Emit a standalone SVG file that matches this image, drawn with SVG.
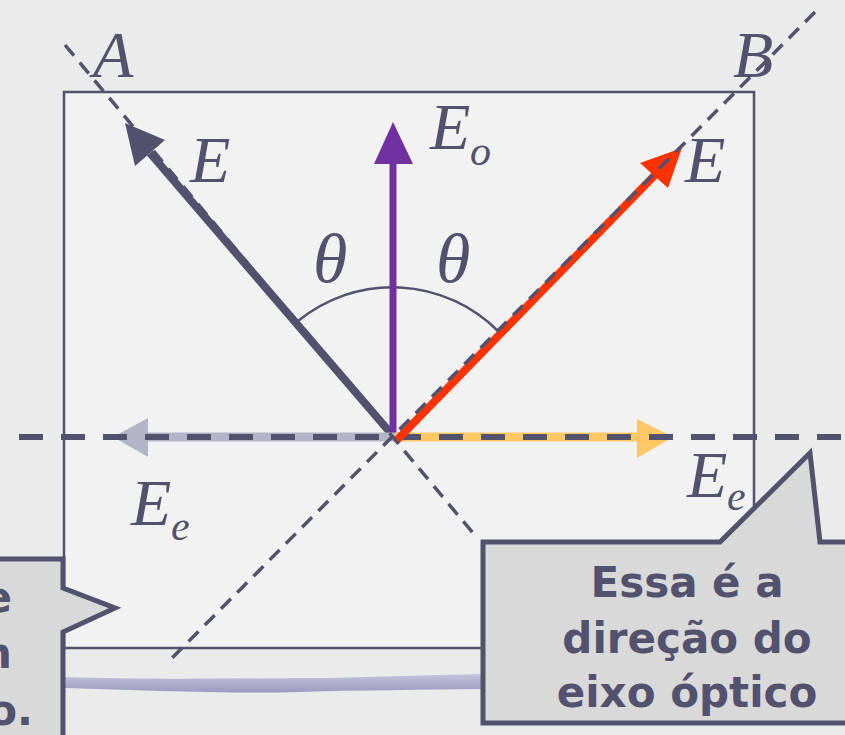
<svg xmlns="http://www.w3.org/2000/svg" width="845" height="735" viewBox="0 0 845 735">
<defs>
<style>
.lbl{font-family:"Liberation Serif","Times New Roman",serif;font-style:italic;fill:#52526e;font-size:66px}
.sub{font-size:42px}
.th{font-size:70px}
.dash{fill:none;stroke:#52526e;stroke-width:3.5;stroke-dasharray:14 9}
.call{fill:#d9d9d9;stroke:#52526e;stroke-width:5;stroke-linejoin:miter}
.ctext{font-family:"DejaVu Sans","Verdana",sans-serif;font-weight:bold;font-size:42px;fill:#52526e}
</style>
<linearGradient id="band" x1="0" y1="0" x2="0" y2="1">
<stop offset="0" stop-color="#c4c4dc"/>
<stop offset="1" stop-color="#9a9abf"/>
</linearGradient>
<filter id="soft" x="-5%" y="-5%" width="110%" height="110%"><feGaussianBlur stdDeviation="0.7"/></filter>
</defs>
<rect x="0" y="0" width="845" height="735" fill="#ebebeb"/>
<g id="crystal">
<rect x="64" y="92" width="690" height="556" fill="#f2f2f2" stroke="#52526e" stroke-width="2.5"/>
</g>
<g id="band-shadow">
<path d="M64,677 C150,680 260,678 330,678 C380,677 420,675 483,674 L483,689 C420,690 360,690 300,692 C220,694 150,690 64,688 Z" fill="url(#band)"/>
</g>
<g id="connectors">
<path id="arc" d="M298,321 A149,149 0 0 1 498,331" fill="none" stroke="#52526e" stroke-width="2.5"/>
<g id="E-left">
<line x1="394" y1="437" x2="150" y2="153" stroke="#52526e" stroke-width="8"/>
<polygon points="125,123 135,166 165,140" fill="#52526e"/>
</g>
<g id="Eo">
<line x1="393" y1="438" x2="393" y2="160" stroke="#7030a0" stroke-width="7"/>
<polygon points="393,122 374,164 413,164" fill="#7030a0"/>
</g>
<g id="Ee-left">
<line x1="395" y1="437" x2="146" y2="437" stroke="#b4b4c8" stroke-width="9"/>
<polygon points="113,437 148,418 148,457" fill="#b4b4c8"/>
</g>
<g id="Ee-right">
<line x1="395" y1="437" x2="639" y2="437" stroke="#ffc864" stroke-width="9"/>
<polygon points="673,437 637,419 637,458" fill="#ffc864"/>
</g>
<line id="axis-h" x1="19" y1="437" x2="845" y2="437" stroke="#52526e" stroke-width="6" stroke-dasharray="24 18"/>
<g id="E-right" filter="url(#soft)">
<line x1="396" y1="441" x2="655" y2="175" stroke="#ff3300" stroke-width="8"/>
<polygon points="682,148 640,163 668,188" fill="#ff3300"/>
</g>
<line id="line-A" class="dash" x1="65" y1="45" x2="478" y2="539"/>
<line id="line-B" class="dash" x1="815" y1="12" x2="172" y2="658"/>
</g>
<g id="labels">
<text class="lbl" x="93" y="77">A</text>
<text class="lbl" x="733" y="77">B</text>
<text class="lbl" x="190" y="182">E</text>
<text class="lbl" x="430" y="149">E<tspan class="sub" x="470" y="165">o</tspan></text>
<text class="lbl" x="685" y="182">E</text>
<text class="lbl th" x="313" y="282">θ</text>
<text class="lbl th" x="436" y="282">θ</text>
<text class="lbl" x="131" y="525">E<tspan class="sub" x="171" y="540">e</tspan></text>
<text class="lbl" x="687" y="497">E<tspan class="sub" x="727" y="510">e</tspan></text>
</g>
<g id="callout-left">
<path class="call" d="M-10,559 L63,559 L63,588 L115,608 L63,632 L63,745 L-10,745 Z"/>
<text class="ctext" x="12" y="612" text-anchor="end">e</text>
<text class="ctext" x="12" y="668" text-anchor="end">n</text>
<text class="ctext" x="33" y="725" text-anchor="end">o.</text>
</g>
<g id="callout-right">
<path class="call" d="M483,542 L720,542 L810,453 L820,542 L850,542 L850,723 L483,723 Z"/>
<text class="ctext" x="687" y="597" text-anchor="middle">Essa é a</text>
<text class="ctext" x="687" y="653" text-anchor="middle">direção do</text>
<text class="ctext" x="687" y="707" text-anchor="middle">eixo óptico</text>
</g>
</svg>
